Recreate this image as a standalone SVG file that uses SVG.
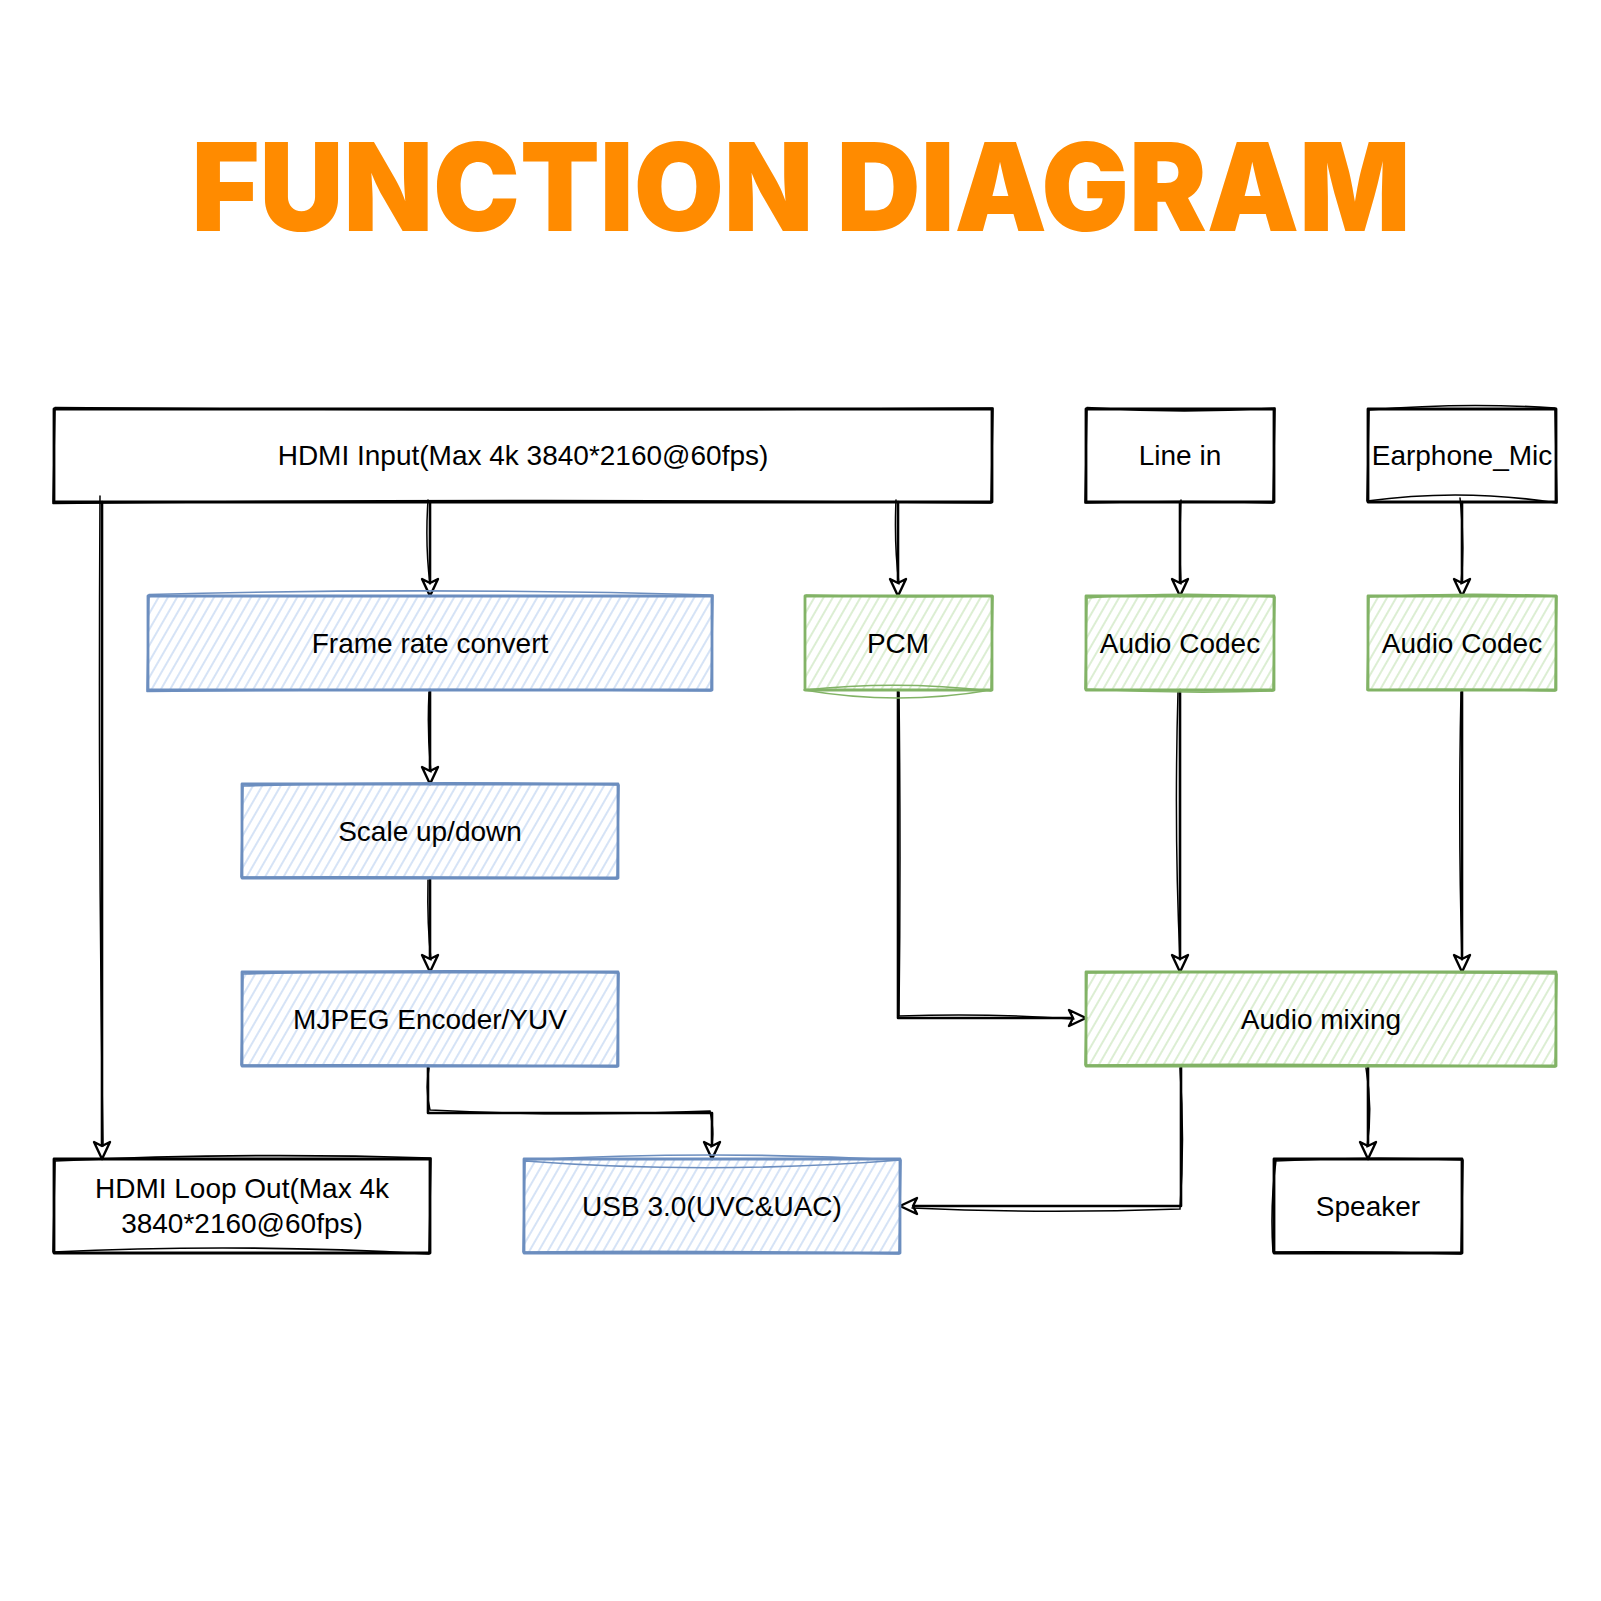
<svg xmlns="http://www.w3.org/2000/svg" width="1601" height="1601" viewBox="0 0 1601 1601">
<style>
.sk{fill:none;stroke-linejoin:round;stroke-linecap:round}
.k{stroke:#000;stroke-width:2.8}
.k2{stroke:#000;stroke-width:1.6}
.b{stroke:#6c8ebf;stroke-width:2.8}
.b2{stroke:#6c8ebf;stroke-width:1.6}
.g{stroke:#82b366;stroke-width:2.8}
.g2{stroke:#82b366;stroke-width:1.6}
.fb{fill:url(#hb);stroke:none}
.fg{fill:url(#hg);stroke:none}
.lbl{font-family:"Liberation Sans",Arial,sans-serif;font-size:28px;fill:#000;text-anchor:middle}
.cn{fill:none;stroke:#000;stroke-width:2.6;stroke-linejoin:round;stroke-linecap:round}
.cn2{fill:none;stroke:#000;stroke-width:1.5;stroke-linecap:round}
</style>
<defs>
<pattern id="hb" width="8" height="8" patternUnits="userSpaceOnUse" patternTransform="rotate(30)">
<line x1="4" y1="0" x2="4" y2="8" stroke="#b3cbee" stroke-width="1.1"/>
</pattern>
<pattern id="hg" width="8" height="8" patternUnits="userSpaceOnUse" patternTransform="rotate(30)">
<line x1="4" y1="0" x2="4" y2="8" stroke="#bfe0ae" stroke-width="1.1"/>
</pattern>
<marker id="ar" markerWidth="22" markerHeight="20" refX="19" refY="10" orient="auto" markerUnits="userSpaceOnUse" viewBox="0 0 22 20">
<path d="M2,2 L19,10 L2,18 L6,10 Z" fill="#fff" stroke="#000" stroke-width="2.4" stroke-linejoin="round"/>
</marker>
</defs>
<rect width="1601" height="1601" fill="#fff"/>

<text x="801" y="231" font-family="Inter,'Open Sans',sans-serif" font-weight="900" font-size="122" fill="#ff8b00" text-anchor="middle" textLength="1219" lengthAdjust="spacingAndGlyphs">FUNCTION DIAGRAM</text>

<g id="connectors">
<path class="cn" d="M102,502 L102,1159" marker-end="url(#ar)"/>
<path class="cn2" d="M100,496 Q98,830 103,1146"/>
<path class="cn" d="M430,502 L430,596" marker-end="url(#ar)"/>
<path class="cn2" d="M428,500 Q425,545 430,584"/>
<path class="cn" d="M898,502 L898,596" marker-end="url(#ar)"/>
<path class="cn2" d="M896,500 Q894,545 899,584"/>
<path class="cn" d="M1180,502 L1180,596" marker-end="url(#ar)"/>
<path class="cn2" d="M1181,500 Q1179,545 1181,584"/>
<path class="cn" d="M1462,502 L1462,596" marker-end="url(#ar)"/>
<path class="cn2" d="M1460,498 Q1465,545 1461,584"/>
<path class="cn" d="M430,690 L430,784" marker-end="url(#ar)"/>
<path class="cn2" d="M429,692 Q427,735 431,772"/>
<path class="cn" d="M430,878 L430,972" marker-end="url(#ar)"/>
<path class="cn2" d="M428,880 Q427,925 431,960"/>
<path class="cn" d="M428,1066 L428,1113 L712,1113 L712,1159" marker-end="url(#ar)"/>
<path class="cn2" d="M429,1068 Q425,1090 430,1110 Q570,1117 710,1111 Q715,1135 711,1147"/>
<path class="cn" d="M898,690 L898,1018 L1086,1018" marker-end="url(#ar)"/>
<path class="cn2" d="M899,692 Q901,860 899,1016 Q990,1013 1074,1019"/>
<path class="cn" d="M1180,690 L1180,972" marker-end="url(#ar)"/>
<path class="cn2" d="M1178,692 Q1174,830 1180,960"/>
<path class="cn" d="M1462,690 L1462,972" marker-end="url(#ar)"/>
<path class="cn2" d="M1461,692 Q1458,830 1462,960"/>
<path class="cn" d="M1181,1066 L1181,1206 L900,1206" marker-end="url(#ar)"/>
<path class="cn2" d="M1180,1068 Q1185,1140 1180,1209 Q1040,1214 912,1208"/>
<path class="cn" d="M1368,1066 L1368,1159" marker-end="url(#ar)"/>
<path class="cn2" d="M1366,1068 Q1373,1110 1367,1147"/>
</g>

<g id="hdmi_input">
<path class="sk k" d="M54,409 H992 V502 H54 Z"/>
<path class="sk k2" d="M55,407.5 Q523,412 993,408 L991,503 Q523,498 53,503.5 Z"/>
<text class="lbl" x="523" y="465">HDMI Input(Max 4k 3840*2160@60fps)</text>
</g>
<g id="line_in">
<path class="sk k" d="M1086,409 H1274 V502 H1086 Z"/>
<path class="sk k2" d="M1087,407.5 Q1180,414 1275,408 L1273,503 Q1180,500 1085,503 Z"/>
<text class="lbl" x="1180" y="465">Line in</text>
</g>
<g id="earphone_mic">
<path class="sk k" d="M1368,409 H1556 V502 H1368 Z"/>
<path class="sk k2" d="M1369,410 Q1462,402 1555,408 L1557,503 Q1462,488 1367,501 Z"/>
<text class="lbl" x="1462" y="465">Earphone_Mic</text>
</g>
<g id="frame_rate_convert">
<rect class="fb" x="148" y="596" width="564" height="94"/>
<path class="sk b" d="M148,596 H712 V690 H148 Z"/>
<path class="sk b2" d="M149,594.5 Q430,587 713,595 L711,691 Q430,688 147,691.5 Z"/>
<text class="lbl" x="430" y="653">Frame rate convert</text>
</g>
<g id="pcm">
<rect class="fg" x="805" y="596" width="187" height="94"/>
<path class="sk g" d="M805,596 H992 V690 H805 Z"/>
<path class="sk g2" d="M806,595 Q898,598 993,596 L991,691 Q898,680 804,690 Q898,706 991,690"/>
<text class="lbl" x="898" y="653">PCM</text>
</g>
<g id="audio_codec_1">
<rect class="fg" x="1086" y="596" width="188" height="94"/>
<path class="sk g" d="M1086,596 H1274 V690 H1086 Z"/>
<path class="sk g2" d="M1087,598 Q1180,591 1275,597 L1273,691 Q1180,694 1085,689 Z"/>
<text class="lbl" x="1180" y="653">Audio Codec</text>
</g>
<g id="audio_codec_2">
<rect class="fg" x="1368" y="596" width="188" height="94"/>
<path class="sk g" d="M1368,596 H1556 V690 H1368 Z"/>
<path class="sk g2" d="M1369,597 Q1462,592 1557,596 L1555,691 Q1462,688 1367,690 Z"/>
<text class="lbl" x="1462" y="653">Audio Codec</text>
</g>
<g id="scale_up_down">
<rect class="fb" x="242" y="784" width="376" height="94"/>
<path class="sk b" d="M242,784 H618 V878 H242 Z"/>
<path class="sk b2" d="M243,786 Q430,780 619,785 L617,879 Q430,876 241,877 Z"/>
<text class="lbl" x="430" y="841">Scale up/down</text>
</g>
<g id="mjpeg_encoder">
<rect class="fb" x="242" y="972" width="376" height="94"/>
<path class="sk b" d="M242,972 H618 V1066 H242 Z"/>
<path class="sk b2" d="M243,974 Q430,968 619,973 L617,1067 Q430,1064 241,1065 Z"/>
<text class="lbl" x="430" y="1029">MJPEG Encoder/YUV</text>
</g>
<g id="audio_mixing">
<rect class="fg" x="1086" y="972" width="470" height="94"/>
<path class="sk g" d="M1086,972 H1556 V1066 H1086 Z"/>
<path class="sk g2" d="M1087,973 Q1321,970 1557,974 L1555,1067 Q1321,1063 1085,1065 Z"/>
<text class="lbl" x="1321" y="1029">Audio mixing</text>
</g>
<g id="hdmi_loop_out">
<path class="sk k" d="M54,1159 H430 V1253 H54 Z"/>
<path class="sk k2" d="M55,1161 Q242,1152 431,1158 L429,1254 Q242,1243 53,1252 Z"/>
<text class="lbl" x="242" y="1198">HDMI Loop Out(Max 4k</text>
<text class="lbl" x="242" y="1233">3840*2160@60fps)</text>
</g>
<g id="usb">
<rect class="fb" x="524" y="1159" width="376" height="94"/>
<path class="sk b" d="M524,1159 H900 V1253 H524 Z"/>
<path class="sk b2" d="M525,1160 Q712,1150 901,1160 Q712,1175 525,1161 L523,1252 Q712,1250 899,1254 L901,1160"/>
<text class="lbl" x="712" y="1216">USB 3.0(UVC&amp;UAC)</text>
</g>
<g id="speaker">
<path class="sk k" d="M1274,1159 H1462 V1253 H1274 Z"/>
<path class="sk k2" d="M1275,1161 Q1368,1156 1463,1160 L1461,1254 Q1368,1251 1273,1252 Q1270,1206 1276,1160"/>
<text class="lbl" x="1368" y="1216">Speaker</text>
</g>
</svg>
